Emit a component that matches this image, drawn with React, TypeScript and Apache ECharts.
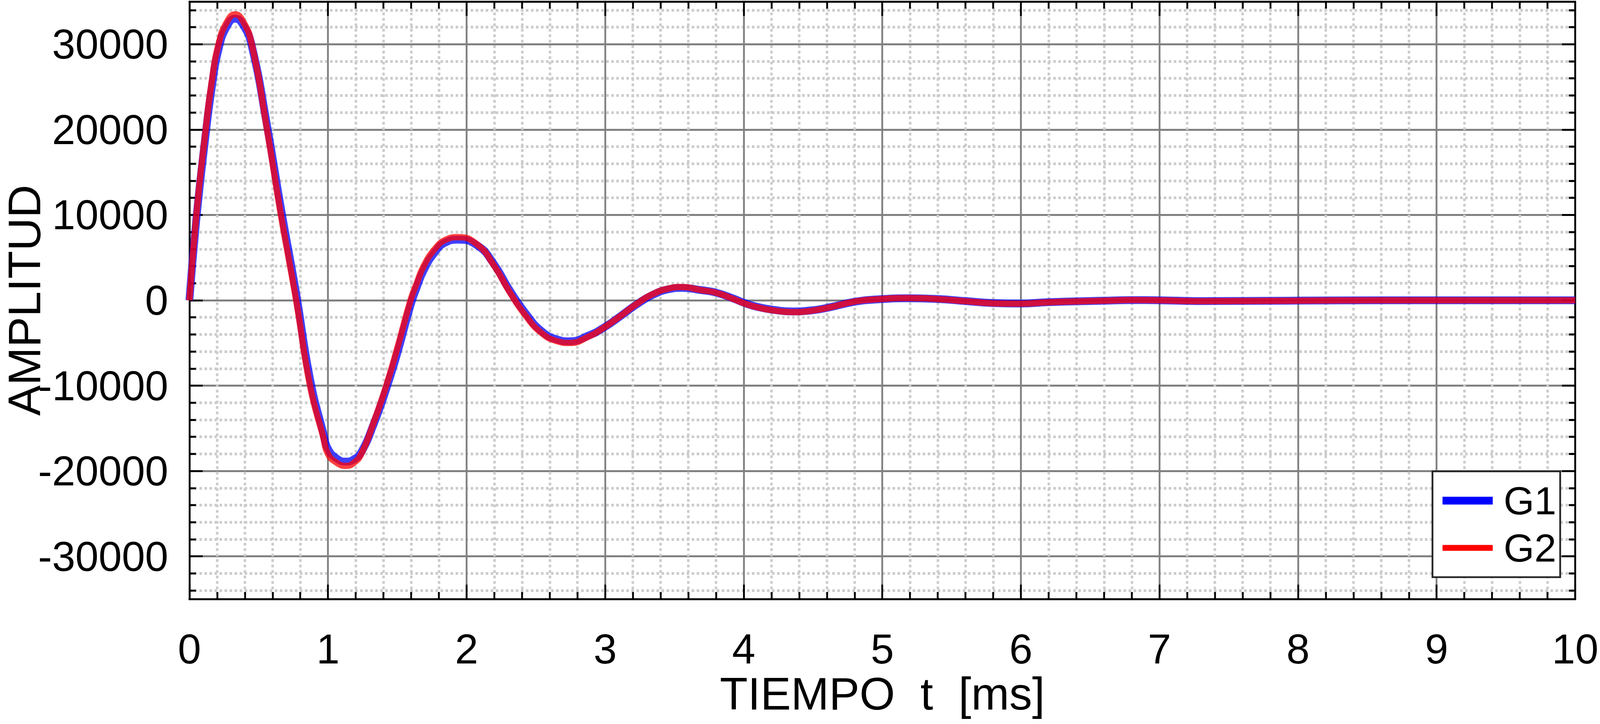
import React, { useEffect, useRef, useState } from "react";
import * as echarts from "echarts";

const FONT = "Liberation Sans, Arial, Helvetica, sans-serif";

// time samples [ms]
const T = [
  0, 0.05, 0.12, 0.16, 0.21, 0.27, 0.33, 0.39, 0.45, 0.56, 0.66, 0.77, 0.87, 0.965, 1.0, 1.06,
  1.13, 1.19, 1.24, 1.33, 1.42, 1.5, 1.595, 1.64, 1.69, 1.77, 1.85, 1.94, 2.08, 2.195, 2.31,
  2.425, 2.54, 2.655, 2.74, 2.885, 3.0, 3.115, 3.23, 3.345, 3.46, 3.55, 3.69, 3.8, 3.93, 4.0,
  4.1, 4.23, 4.35, 4.49, 4.62, 4.79, 4.96, 5.19, 5.39, 5.61, 5.8, 5.99, 6.2, 6.6, 6.8, 7.0,
  7.3, 8.0, 8.6, 9.3, 10.0,
];

// G1 amplitude (blue)
const G1 = [
  0, 9500, 19800, 24800, 29400, 32100, 33000, 32200, 29800, 20500, 10800, 800, -9200, -15500,
  -17400, -18500, -18900, -18600, -17800, -14500, -10400, -6200, -600, 1500, 3500, 5600, 6800,
  7100, 6400, 4300, 1200, -1500, -3600, -4600, -4800, -4100, -3100, -1800, -450, 650, 1300,
  1450, 1200, 900, 180, -280, -780, -1150, -1300, -1180, -820, -200, 100, 240, 160, -100, -320,
  -380, -220, -50, 20, 0, -90, -40, 0, 0, 0,
];

// G2 amplitude (red)
const G2 = [
  0, 10000, 20400, 25500, 30000, 32600, 33500, 32600, 30000, 20000, 10000, 0, -10000, -16000,
  -18000, -19000, -19400, -19000, -18000, -14300, -10000, -5600, 0, 2000, 4000, 6000, 7100,
  7400, 6500, 4140, 980, -1780, -3820, -4800, -5000, -4220, -3100, -1780, -390, 730, 1390,
  1550, 1200, 890, 120, -340, -830, -1220, -1380, -1220, -830, -180, 120, 260, 150, -120, -350,
  -400, -230, -50, 30, 0, -100, -50, 0, 0, 0,
];

const SERIES_NAMES = ["G1", "G2"];
const X_TITLE = "TIEMPO  t  [ms]";
const Y_TITLE = "AMPLITUD";

export default function App() {
  const ref = useRef<HTMLDivElement>(null);
  const [size] = useState(() => ({
    w: typeof window !== "undefined" ? window.innerWidth : 4460,
    h: typeof window !== "undefined" ? window.innerHeight : 1854,
  }));

  useEffect(() => {
    document.body.style.margin = "0";
    document.body.style.overflow = "hidden";
    if (!ref.current) return;
    const sx = size.w / 4460;
    const sy = size.h / 1854;
    const sf = Math.min(1, (sx + sy) / 2 + 0.005);
    const X = (v: number) => v * sx;
    const Y = (v: number) => v * sy;
    const F = (v: number) => Math.round(v * sf);
    const tickFont = Math.round(113 * Math.min(1, sf - 0.02));
    const chart = echarts.init(ref.current, null, { renderer: "svg" });

    const xTicks = {
      axisTick: { show: true, inside: true, length: Y(37), lineStyle: { color: "#000", width: X(5) } },
      minorTick: { show: true, splitNumber: 5, length: Y(18), lineStyle: { color: "#000", width: X(5) } },
      axisLine: { show: true, onZero: false, lineStyle: { color: "#000", width: Y(5) } },
    };
    const yTicks = {
      axisTick: { show: true, inside: true, length: X(37), lineStyle: { color: "#000", width: Y(5) } },
      minorTick: { show: true, splitNumber: 5, length: X(18), lineStyle: { color: "#000", width: Y(5) } },
      axisLine: { show: true, onZero: false, lineStyle: { color: "#000", width: X(5) } },
    };

    const labelStyle = { fontSize: tickFont, fontFamily: FONT, color: "#000" };
    const titleStyle = { fontSize: F(121), fontFamily: FONT, color: "#000" };
    // keep the last x tick label ("10") inside the page
    const rightGap = Math.max(X(57), tickFont * 0.556 + 4);
    // rotated y title: its outer edge sits just inside the page's left edge
    const yNameGap = X(528) - F(121) - 4;

    chart.setOption({
      animation: false,
      backgroundColor: "#ffffff",
      grid: {
        left: X(528),
        right: rightGap,
        top: Y(4),
        bottom: Y(320),
        containLabel: false,
        outerBoundsMode: "none",
      },
      xAxis: [
        {
          type: "value",
          min: 0,
          max: 10,
          interval: 1,
          position: "bottom",
          ...xTicks,
          axisLabel: { ...labelStyle, margin: Y(74), formatter: (v: number) => String(v) },
          splitLine: { show: true, lineStyle: { color: "#808080", width: X(5) } },
          minorSplitLine: {
            show: true,
            lineStyle: { color: "#cccccc", width: X(7), type: [Y(7), Y(7)] },
          },
          name: X_TITLE,
          nameLocation: "middle",
          nameGap: Y(184),
          nameMoveOverlap: false,
          nameTextStyle: titleStyle,
        },
        {
          type: "value",
          min: 0,
          max: 10,
          interval: 1,
          position: "top",
          ...xTicks,
          axisLabel: { show: false },
          splitLine: { show: false },
        },
      ],
      yAxis: [
        {
          type: "value",
          min: -35000,
          max: 35000,
          splitNumber: 7,
          position: "left",
          ...yTicks,
          axisLabel: {
            ...labelStyle,
            margin: X(59),
            formatter: (v: number) => (Math.abs(v) >= 35000 ? "" : String(v)),
          },
          splitLine: { show: true, lineStyle: { color: "#808080", width: Y(5) } },
          minorSplitLine: {
            show: true,
            lineStyle: { color: "#cccccc", width: Y(7), type: [X(7), X(7)] },
          },
          name: Y_TITLE,
          nameLocation: "middle",
          nameGap: yNameGap,
          nameMoveOverlap: false,
          nameTextStyle: titleStyle,
        },
        {
          type: "value",
          min: -35000,
          max: 35000,
          splitNumber: 7,
          position: "right",
          ...yTicks,
          axisLabel: { show: false },
          splitLine: { show: false },
        },
      ],
      legend: [
        {
          data: [{ name: SERIES_NAMES[0], icon: "rect", itemStyle: { color: "#0000ff", opacity: 1 } }],
          left: X(4021),
          top: Y(1282) - F(105) / 2,
          itemWidth: X(140),
          itemHeight: Y(20),
          padding: 0,
          selectedMode: false,
          z: 20,
          textStyle: { fontSize: F(105), fontFamily: FONT, color: "#000", padding: [0, 0, 0, X(25)] },
        },
        {
          data: [{ name: SERIES_NAMES[1], icon: "rect", itemStyle: { color: "#ff0000", opacity: 1 } }],
          left: X(4021),
          top: Y(1403) - F(105) / 2,
          itemWidth: X(140),
          itemHeight: Y(15),
          padding: 0,
          selectedMode: false,
          z: 20,
          textStyle: { fontSize: F(105), fontFamily: FONT, color: "#000", padding: [0, 0, 0, X(25)] },
        },
      ],
      graphic: [
        {
          type: "rect",
          z: 10,
          shape: { x: X(3993), y: Y(1207), width: X(356), height: Y(271) },
          style: { fill: "#ffffff", stroke: "#262626", lineWidth: X(5) },
        },
      ],
      series: [
        {
          name: SERIES_NAMES[0],
          type: "line",
          xAxisIndex: 0,
          yAxisIndex: 0,
          data: T.map((t, i) => [t, G1[i]]),
          showSymbol: false,
          symbol: "none",
          smooth: true,
          clip: true,
          z: 2,
          itemStyle: { color: "#0000ff" },
          lineStyle: { color: "#0000ff", width: 20, opacity: 0.75 },
        },
        {
          name: SERIES_NAMES[1],
          type: "line",
          xAxisIndex: 0,
          yAxisIndex: 0,
          data: T.map((t, i) => [t, G2[i]]),
          showSymbol: false,
          symbol: "none",
          smooth: true,
          clip: true,
          z: 3,
          itemStyle: { color: "#ff0000" },
          lineStyle: { color: "#ff0000", width: 16, opacity: 0.75 },
        },
      ],
    });

    return () => chart.dispose();
  }, [size]);

  return <div ref={ref} style={{ width: size.w, height: size.h }} />;
}
